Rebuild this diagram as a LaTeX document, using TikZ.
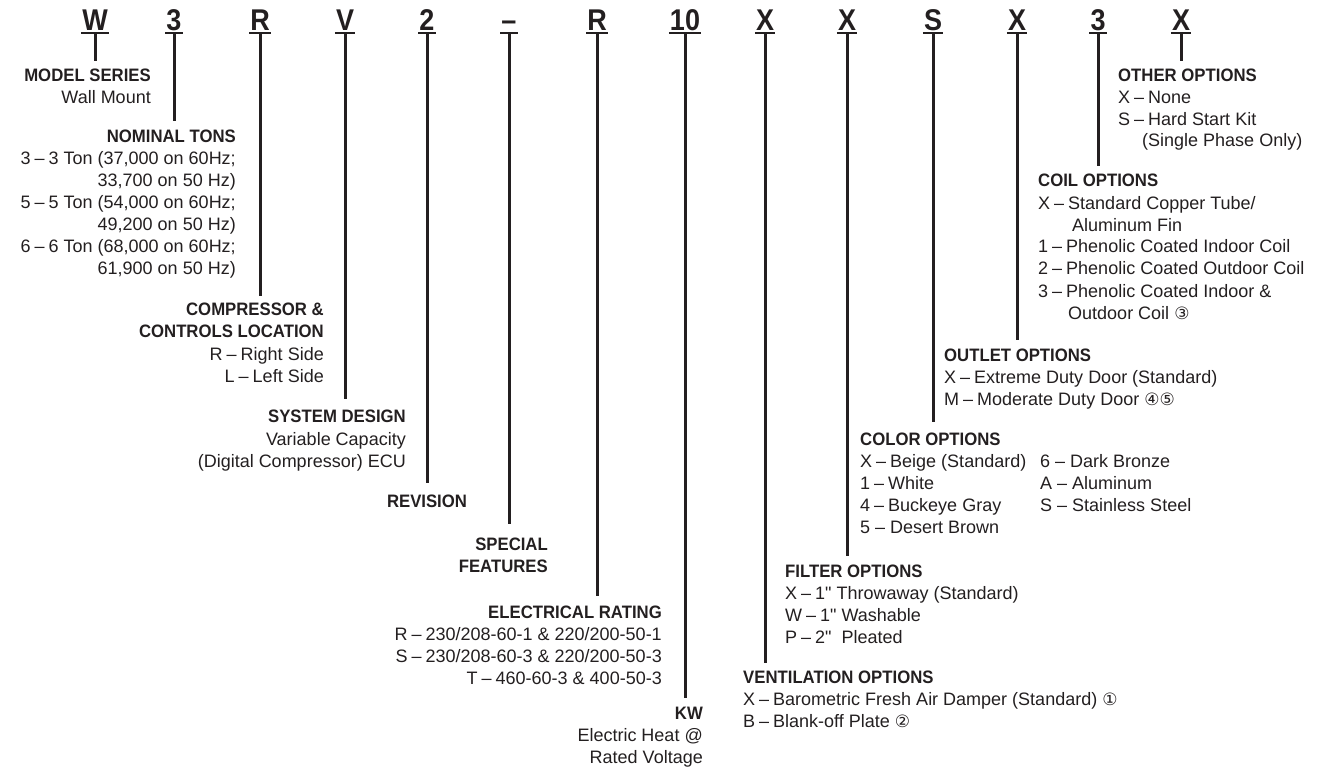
\documentclass[tikz,border=0pt]{standalone}
\usepackage{fontspec}
\newfontfamily\bodyfont{Liberation Sans}[Ligatures=TeXOff]
\newfontfamily\hdfont{Liberation Sans}[FakeStretch=0.93]
\newfontfamily\codefont{Liberation Sans}[FakeStretch=0.9]
\newfontfamily\symfont{DejaVu Sans}
\definecolor{ink}{HTML}{231F20}
\newcommand\cnum[1]{{\symfont\fontsize{17}{17}\selectfont #1}}
\newcommand\dd{\hspace{4pt}–\hspace{4pt}}
\tikzset{
  code/.style={font=\codefont\bfseries\fontsize{30}{30}\selectfont, inner sep=0pt, anchor=base, text=ink},
  hd/.style={font=\hdfont\bfseries\fontsize{18}{22}\selectfont, inner sep=0pt, text=ink},
  bd/.style={font=\bodyfont\fontsize{18}{22}\selectfont, inner sep=0pt, text=ink},
  ra/.style={anchor=base east},
  la/.style={anchor=base west},
  ca/.style={anchor=base},
  stem/.style={draw=ink, line width=3pt},
  uline/.style={draw=ink, line width=2pt},
}
\begin{document}
\begin{tikzpicture}[x=1pt,y=-1pt]
\useasboundingbox (0,0) rectangle (1319,767);
% code letters
\node[code] (cW)  at (95,31)   {W};
\node[code] (c3)  at (174,31)  {3};
\node[code] (cR)  at (260,31)  {R};
\node[code] (cV)  at (345,31)  {V};
\node[code] (c2)  at (427,31)  {2};
\node[code] (cD)  at (509,31)  {–};
\node[code] (cRb) at (597,31)  {R};
\node[code] (c10) at (685,31)  {10};
\node[code] (cXa) at (765,31)  {X};
\node[code] (cXb) at (847,31)  {X};
\node[code] (cS)  at (933,31)  {S};
\node[code] (cXc) at (1017,31) {X};
\node[code] (c3b) at (1098,31) {3};
\node[code] (cXd) at (1181,31) {X};
% stem ends
\coordinate (eW)  at (95,61);
\coordinate (e3)  at (174,121);
\coordinate (eR)  at (260,296);
\coordinate (eV)  at (345,399);
\coordinate (e2)  at (427,483);
\coordinate (eD)  at (509,524);
\coordinate (eRb) at (597,596);
\coordinate (e10) at (685,698);
\coordinate (eXa) at (765,663);
\coordinate (eXb) at (847,556);
\coordinate (eS)  at (933,422);
\coordinate (eXc) at (1017,340);
\coordinate (e3b) at (1098,166);
\coordinate (eXd) at (1181,61);
\foreach \c/\e in {cW/eW,c3/e3,cR/eR,cV/eV,c2/e2,cD/eD,cRb/eRb,c10/e10,cXa/eXa,cXb/eXb,cS/eS,cXc/eXc,c3b/e3b,cXd/eXd}{
  \draw[uline] ([xshift=-1pt,yshift=-2.5pt]\c.base west) -- ([xshift=1pt,yshift=-2.5pt]\c.base east);
  \draw[stem] ([yshift=-2.5pt]\c.base) -- (\e);
}
% MODEL SERIES
\node[hd,ra] (msH) at (151,82) {MODEL SERIES};
\node[bd,ra] (ms1) at (151,104) {Wall Mount};
% NOMINAL TONS
\node[hd,ra] (ntH) at (236,143) {NOMINAL TONS};
\node[bd,ra] (nt1) at (236,165) {3\dd 3 Ton (37,000 on 60Hz;};
\node[bd,ra] (nt2) at (236,187) {33,700 on 50 Hz)};
\node[bd,ra] (nt3) at (236,209) {5\dd 5 Ton (54,000 on 60Hz;};
\node[bd,ra] (nt4) at (236,231) {49,200 on 50 Hz)};
\node[bd,ra] (nt5) at (236,253) {6\dd 6 Ton (68,000 on 60Hz;};
\node[bd,ra] (nt6) at (236,275) {61,900 on 50 Hz)};
% COMPRESSOR
\node[hd,ra] (ccH1) at (324,315) {COMPRESSOR \&};
\node[hd,ra] (ccH2) at (324,337) {CONTROLS LOCATION};
\node[bd,ra] (cc1) at (324,360) {R\dd Right Side};
\node[bd,ra] (cc2) at (324,382) {L\dd Left Side};
% SYSTEM DESIGN
\node[hd,ra] (sdH) at (406,422) {SYSTEM DESIGN};
\node[bd,ra] (sd1) at (406,445) {Variable Capacity};
\node[bd,ra] (sd2) at (406,467) {(Digital Compressor) ECU};
% REVISION
\node[hd,ca] (rvH) at (427,507) {REVISION};
% SPECIAL FEATURES
\node[hd,ra] (sfH1) at (548,550) {SPECIAL};
\node[hd,ra] (sfH2) at (548,572) {FEATURES};
% ELECTRICAL RATING
\node[hd,ra] (erH) at (662,618) {ELECTRICAL RATING};
\node[bd,ra] (er1) at (662,640) {R\dd 230/208-60-1 \& 220/200-50-1};
\node[bd,ra] (er2) at (662,662) {S\dd 230/208-60-3 \& 220/200-50-3};
\node[bd,ra] (er3) at (662,684) {T\dd 460-60-3 \& 400-50-3};
% KW
\node[hd,ra] (kwH) at (703,719) {KW};
\node[bd,ra] (kw1) at (703,741) {Electric Heat @};
\node[bd,ra] (kw2) at (703,763) {Rated Voltage};
% VENTILATION
\node[hd,la] (vnH) at (743,683) {VENTILATION OPTIONS};
\node[bd,la] (vn1) at (743,705) {X\dd Barometric Fresh Air Damper (Standard) \cnum{①}};
\node[bd,la] (vn2) at (743,727) {B\dd Blank-off Plate \cnum{②}};
% FILTER
\node[hd,la] (flH) at (785,577) {FILTER OPTIONS};
\node[bd,la] (fl1) at (785,599) {X\dd 1" Throwaway (Standard)};
\node[bd,la] (fl2) at (785,621) {W\dd 1" Washable};
\node[bd,la] (fl3) at (785,643) {P\dd 2"\ \ Pleated};
% COLOR
\node[hd,la] (coH) at (860,445) {COLOR OPTIONS};
\node[bd,la] (co1) at (860,467) {X\dd Beige (Standard)};
\node[bd,la] (co2) at (860,489) {1\dd White};
\node[bd,la] (co3) at (860,511) {4\dd Buckeye Gray};
\node[bd,la] (co4) at (860,533) {5 – Desert Brown};
\node[bd,la] (co5) at (1040,467) {6 – Dark Bronze};
\node[bd,la] (co6) at (1040,489) {A – Aluminum};
\node[bd,la] (co7) at (1040,511) {S – Stainless Steel};
% OUTLET
\node[hd,la] (otH) at (944,361) {OUTLET OPTIONS};
\node[bd,la] (ot1) at (944,383) {X\dd Extreme Duty Door (Standard)};
\node[bd,la] (ot2) at (944,405) {M\dd Moderate Duty Door \cnum{④⑤}};
% COIL
\node[hd,la] (clH) at (1038,187) {COIL OPTIONS};
\node[bd,la] (cl1) at (1038,210) {X\dd Standard Copper Tube/};
\node[bd,la] (cl2) at (1072,232) {Aluminum Fin};
\node[bd,la] (cl3) at (1038,253) {1\dd Phenolic Coated Indoor Coil};
\node[bd,la] (cl4) at (1038,275) {2\dd Phenolic Coated Outdoor Coil};
\node[bd,la] (cl5) at (1038,297) {3\dd Phenolic Coated Indoor \&};
\node[bd,la] (cl6) at (1068,319) {Outdoor Coil \cnum{③}};
% OTHER
\node[hd,la] (ooH) at (1118,82) {OTHER OPTIONS};
\node[bd,la] (oo1) at (1118,104) {X\dd None};
\node[bd,la] (oo2) at (1118,126) {S\dd Hard Start Kit};
\node[bd,la] (oo3) at (1142,147) {(Single Phase Only)};
\end{tikzpicture}
\end{document}
